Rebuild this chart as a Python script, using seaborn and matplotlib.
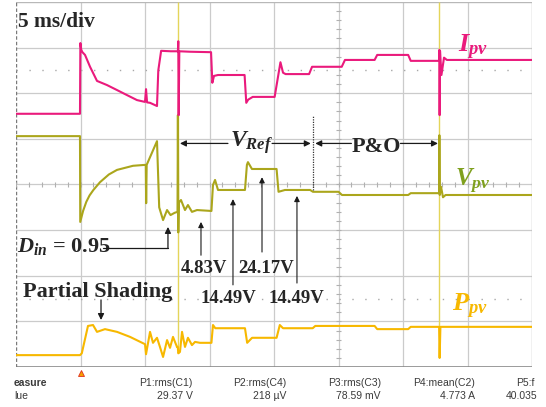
import numpy as np
import pandas as pd
import matplotlib
matplotlib.use("Agg")
import matplotlib.pyplot as plt
import seaborn as sns

# ---------------- data (time in ms, level in scope divisions) ----------------
i_t = [0, 4.96, 4.99, 5.06, 5.15, 5.35, 5.74, 6.28, 7.05, 7.83, 8.60, 9.38, 10.0, 10.08, 10.16,
       10.39, 10.93, 11.03, 11.25, 12.0, 12.55, 12.58, 12.61, 12.66, 13.5, 15.12, 15.22, 15.35,
       15.66, 17.72, 17.85, 18.0, 18.35, 20.05, 20.5, 20.7, 20.9, 22.72, 22.95, 25.25, 25.5,
       27.8, 28.0, 30.4, 30.6, 32.80, 32.82, 32.84, 32.87, 32.98, 33.18, 33.4, 40]
i_v = [5.55, 5.55, 7.10, 6.95, 6.90, 6.84, 6.58, 6.27, 6.18, 6.07, 5.96, 5.85, 5.81, 6.09, 5.80,
       5.79, 5.72, 6.50, 6.93, 6.92, 6.92, 7.14, 5.52, 6.92, 6.91, 6.90, 6.23, 6.38,
       6.40, 6.40, 5.79, 5.86, 5.92, 5.92, 6.68, 6.45, 6.42, 6.42, 6.58, 6.58, 6.73,
       6.73, 6.84, 6.84, 6.71, 6.71, 6.95, 5.52, 6.93, 6.40, 6.78, 6.73, 6.73]

v_t = [0, 4.96, 4.98, 5.2, 5.45, 5.7, 6.0, 6.51, 7.2, 7.83, 9.07, 10.0, 10.06, 10.09, 10.13, 10.93,
       11.1, 11.40, 11.71, 11.98, 12.30, 12.52, 12.55, 12.58, 12.62, 12.79, 13.10, 13.33, 13.64,
       14.03, 15.15, 15.27, 15.43, 15.66, 17.75, 17.90, 17.98, 18.29, 20.20, 20.35, 20.85, 22.8,
       23.02, 25.0, 25.27, 30.4, 30.6, 32.80, 32.82, 32.85, 32.95, 33.1, 33.3, 40]
v_v = [5.06, 5.06, 3.18, 3.42, 3.62, 3.76, 3.88, 4.05, 4.22, 4.32, 4.41, 4.43, 4.43, 3.59, 4.43, 4.95,
       3.50, 3.22, 3.44, 3.33, 3.38, 3.40, 5.52, 2.95, 3.60, 3.66, 3.44, 3.55, 3.40,
       3.44, 3.42, 3.99, 4.10, 3.88, 3.88, 4.43, 4.49, 4.34, 4.34, 3.84, 3.88, 3.88,
       3.84, 3.84, 3.77, 3.77, 3.81, 3.81, 5.08, 3.77, 3.95, 3.72, 3.77, 3.77]

p_t = [0, 4.96, 5.1, 5.58, 5.97, 6.28, 6.9, 7.83, 8.84, 10.0, 10.08, 10.39, 10.62, 10.93, 11.16,
       11.40, 11.71, 11.94, 12.17, 12.48, 12.54, 12.58, 12.71, 12.87, 13.10, 13.33, 13.64,
       13.88, 14.26, 15.15, 15.27, 15.45, 17.75, 17.92, 18.3, 20.2, 20.45, 20.7, 23.0, 23.2,
       27.8, 28.0, 30.4, 30.6, 32.80, 32.84, 32.9, 40]
p_v = [0.26, 0.26, 0.30, 0.90, 0.92, 0.77, 0.83, 0.77, 0.66, 0.50, 0.28, 0.77, 0.53, 0.64, 0.44,
       0.22, 0.59, 0.42, 0.66, 0.44, 0.44, 0.30, 0.33, 0.77, 0.44, 0.64, 0.48,
       0.55, 0.53, 0.53, 0.92, 0.85, 0.85, 0.53, 0.64, 0.64, 0.92, 0.85, 0.85, 0.90,
       0.90, 0.83, 0.83, 0.88, 0.88, 0.20, 0.88, 0.88]
# full-scale glitches of the power channel
glitch_t = [12.56, 32.82]
glitch_lo = [0.30, 0.20]
glitch_hi = [8.0, 8.0]

value_labels = ["4.83V", "14.49V", "24.17V", "14.49V"]
meas_names = ["P1:rms(C1)", "P2:rms(C4)", "P3:rms(C3)", "P4:mean(C2)"]
meas_values = ["29.37 V", "218 \u00b5V", "78.59 mV", "4.773 A"]

PINK = "#EA1A7C"
OLIVE = "#ABA61C"
GOLD = "#F7B800"
GRID = "#CBCBCB"

sns.set_theme(style="white")
plt.rcParams['font.family'] = ['Liberation Serif', 'DejaVu Serif']
plt.rcParams['mathtext.fontset'] = 'custom'
plt.rcParams['mathtext.it'] = 'Liberation Serif:italic:bold'
plt.rcParams['mathtext.rm'] = 'Liberation Serif:bold'
plt.rcParams['mathtext.bf'] = 'Liberation Serif:bold'

fig = plt.figure(figsize=(5.46, 4.07), dpi=100)
ax = fig.add_axes([16 / 546, 40 / 407, 516 / 546, 365 / 407])

# graticule
for x in range(5, 40, 5):
    ax.axvline(x, color=GRID, lw=0.9, zorder=0)
for y in range(1, 8):
    ax.axhline(y, color=GRID, lw=0.9, zorder=0)
ax.axhline(8, color="#B8B8B8", lw=1.0, zorder=0)
ax.axvline(40, color="#B8B8B8", lw=1.0, zorder=0)
ax.axhline(0, color="#8A8A8A", lw=1.2, zorder=0)
ax.axvline(0, color="#7A7A7A", lw=1.0, ls=(0, (2.5, 1.5)), zorder=0)
mx = np.arange(0, 40.01, 1.0)
ax.vlines(mx, 4 - 0.06, 4 + 0.06, color="#B0B0B0", lw=0.8, zorder=0)
my = np.arange(0, 8.01, 0.2)
ax.hlines(my, 25 - 0.18, 25 + 0.18, color="#B0B0B0", lw=0.8, zorder=0)
for y in (6.5, 1.5):
    ax.plot([0, 40], [y, y], color="#A8A8A8", lw=1.0, ls=(0, (1, 8.3)), zorder=0)

# traces
ax.vlines(glitch_t, glitch_lo, glitch_hi, color="#E4D55A", lw=1.0, zorder=2)
dp = pd.DataFrame({"t": p_t, "v": p_v})
dv = pd.DataFrame({"t": v_t, "v": v_v})
di = pd.DataFrame({"t": i_t, "v": i_v})
sns.lineplot(data=dp, x="t", y="v", ax=ax, color=GOLD, lw=1.5, sort=False, estimator=None, zorder=3)
sns.lineplot(data=dv, x="t", y="v", ax=ax, color=OLIVE, lw=1.5, sort=False, estimator=None, zorder=4)
sns.lineplot(data=di, x="t", y="v", ax=ax, color=PINK, lw=1.5, sort=False, estimator=None, zorder=5)
ax.set_xlim(0, 40)
ax.set_ylim(0, 8)
ax.set_axis_off()

# trigger marker
ax.plot([5.0], [-0.13], marker="^", ms=5, color="#F5A000", mec="#E03020", mew=0.6,
        clip_on=False, zorder=6)

# channel labels
ax.text(34.3, 6.90, r"$I_{pv}$", color=PINK, fontsize=19, ha="left", va="baseline", zorder=7)
ax.text(34.0, 3.95, r"$V_{pv}$", color="#7FA01E", fontsize=18, ha="left", va="baseline", zorder=7)
ax.text(33.8, 1.21, r"$P_{pv}$", color=GOLD, fontsize=19, ha="left", va="baseline", zorder=7)

ax.text(0.15, 7.45, "5 ms/div", fontsize=15.5, fontweight="bold", ha="left", va="baseline", zorder=7)

arrow = dict(arrowstyle="-|>", color="k", lw=0.9, mutation_scale=9, shrinkA=0, shrinkB=0)

# V_Ref and P&O spans
ax.text(16.6, 4.82, r"$V_{Ref}$", fontsize=17, ha="left", va="baseline", zorder=7)
ax.annotate("", xy=(12.71, 4.90), xytext=(16.43, 4.90), arrowprops=arrow, zorder=7)
ax.annotate("", xy=(22.85, 4.90), xytext=(19.85, 4.90), arrowprops=arrow, zorder=7)
ax.plot([23.02, 23.02], [3.88, 5.52], color="#333333", lw=0.9, ls=(0, (1, 1)), zorder=7)
ax.annotate("", xy=(23.2, 4.90), xytext=(26.0, 4.90), arrowprops=arrow, zorder=7)
ax.annotate("", xy=(32.71, 4.90), xytext=(29.8, 4.90), arrowprops=arrow, zorder=7)
ax.text(27.9, 4.71, "P&O", fontsize=16, fontweight="bold", ha="center", va="baseline", zorder=7)

# D_in
ax.text(0.08, 2.52, r"$D_{in}$ = 0.95", fontsize=16, fontweight="bold", ha="left",
        va="baseline", zorder=7)
ax.plot([6.74, 11.78], [2.61, 2.61], color="k", lw=0.9, zorder=7)
ax.annotate("", xy=(11.78, 3.07), xytext=(11.78, 2.61), arrowprops=arrow, zorder=7)

# Partial shading
ax.text(0.54, 1.53, "Partial Shading", fontsize=16, fontweight="bold", ha="left",
        va="baseline", zorder=7)
ax.annotate("", xy=(6.59, 1.03), xytext=(6.59, 1.47), arrowprops=arrow, zorder=7)

# voltage step labels
lab_x = [12.79, 14.34, 17.21, 19.61]
lab_y = [2.06, 1.40, 2.06, 1.40]
arr_x = [14.34, 16.82, 19.07, 21.78]
arr_from = [2.45, 1.80, 2.52, 1.84]
arr_to = [3.18, 3.68, 4.16, 3.75]
for lbl, lx, ly, axx, a0, a1 in zip(value_labels, lab_x, lab_y, arr_x, arr_from, arr_to):
    ax.text(lx, ly, lbl, fontsize=13.5, fontweight="bold", ha="left", va="baseline", zorder=7)
    ax.annotate("", xy=(axx, a1), xytext=(axx, a0),
                arrowprops=dict(arrowstyle="-|>", color="k", lw=0.8, mutation_scale=8,
                                shrinkA=0, shrinkB=0), zorder=7)

# measurement row
mfont = dict(family="Liberation Sans", fontsize=7.5, color="#3A3A3A", va="center")
fig.text(14 / 546, 1 - 383 / 407, "easure", fontweight="bold", ha="left", **mfont)
fig.text(14 / 546, 1 - 396 / 407, "lue", ha="left", **mfont)
for name, val, xr in zip(meas_names, meas_values, [193, 286, 381, 475]):
    fig.text(xr / 546, 1 - 383 / 407, name, ha="right", **mfont)
    fig.text(xr / 546, 1 - 396 / 407, val, ha="right", **mfont)
fig.text(516 / 546, 1 - 383 / 407, "P5:f", ha="left", **mfont)
fig.text(506 / 546, 1 - 396 / 407, "40.035", ha="left", **mfont)

fig.savefig("out.png", dpi=100)
